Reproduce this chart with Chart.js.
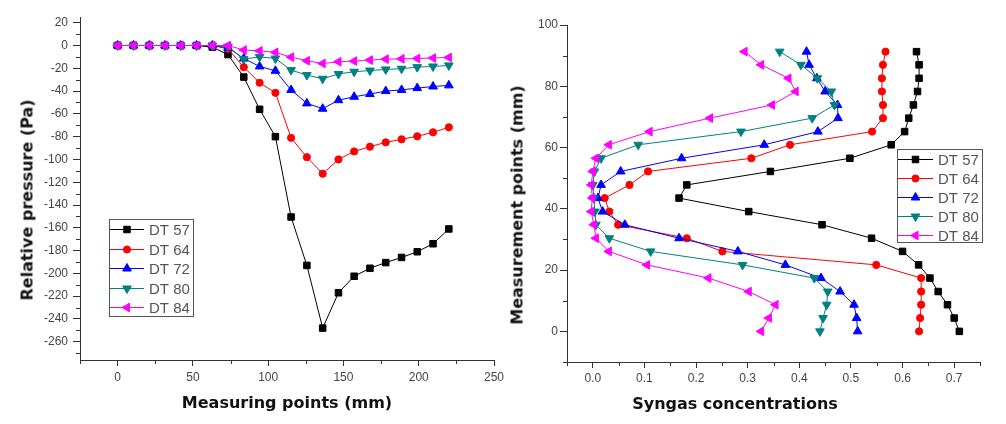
<!DOCTYPE html>
<html>
<head>
<meta charset="utf-8">
<script src="https://cdn.jsdelivr.net/npm/chart.js@4/dist/chart.umd.min.js"></script>
<style>
  html, body { margin: 0; padding: 0; background: #fff; }
  #wrap { position: relative; width: 1006px; height: 424px; overflow: hidden; }
  canvas { position: absolute; top: 0; }
  #pressureChart { left: 0; }
  #syngasChart { left: 490px; }
  .ttl { position: absolute; font: bold 16px "DejaVu Sans", sans-serif; color: #111;
         white-space: nowrap; transform: translate(-50%, -50%); }
  .vert { transform: translate(-50%, -50%) rotate(-90deg); }
</style>
</head>
<body>
<div id="wrap">
  <canvas id="pressureChart" width="510" height="424"></canvas>
  <canvas id="syngasChart" width="516" height="424"></canvas>
  <div class="ttl vert" style="left:27px;top:200px;">Relative pressure (Pa)</div>
  <div class="ttl" style="left:287px;top:402px;">Measuring points (mm)</div>
  <div class="ttl vert" style="left:517px;top:205px;">Measurement points (mm)</div>
  <div class="ttl" style="left:735px;top:403px;">Syngas concentrations</div>
</div>
<script>
// series names
const seriesNames = ['DT 57', 'DT 64', 'DT 72', 'DT 80', 'DT 84'];

// left panel: measuring points (mm) and relative pressure (Pa)
const measuringPoints = [0, 10.5, 21, 31.4, 41.9, 52.4, 62.9, 73.3, 83.8, 94.3, 104.8,
  115.2, 125.7, 136.2, 146.7, 157.1, 167.6, 178.1, 188.6, 199, 209.5, 220];
const pressureDT57 = [0, 0, 0, 0, 0, 0, -1.5, -8, -27.7, -56, -80, -150.5, -193, -248,
  -217, -202.5, -195.5, -190.5, -186, -181, -174, -161];
const pressureDT64 = [0, 0, 0, 0, 0, 0, 0, -3, -19, -32.7, -41.5, -81, -98, -112.5,
  -100, -93, -88.8, -85, -82.3, -79.7, -76.2, -71.8];
const pressureDT72 = [0, 0, 0, 0, 0, 0, 0, -2, -11.4, -18.4, -22.2, -39, -50.8, -55.5,
  -48, -45, -42.6, -40, -39, -37.4, -36, -35];
const pressureDT80 = [0, 0, 0, 0, 0, 0, 0, -1, -12, -10, -11.4, -21.6, -26, -29.2,
  -25, -23, -22, -21, -20.4, -19, -18.4, -17.5];
const pressureDT84 = [0, 0, 0, 0, 0, 0, 0, 0, -4, -4.7, -6, -10.2, -13.4, -15.8,
  -14.3, -13.7, -12.8, -12, -11.7, -11.4, -11, -10.5];

// right panel: measurement points (mm) and syngas concentrations
const heightPoints = [0, 4.35, 8.7, 13, 17.4, 21.7, 26.1, 30.4, 34.8, 39.1, 43.5,
  47.8, 52.2, 56.5, 60.9, 65.2, 69.6, 73.9, 78.3, 82.6, 87, 91.3];
const syngasDT57 = [0.71, 0.70, 0.687, 0.669, 0.653, 0.631, 0.600, 0.540, 0.444, 0.302, 0.167,
  0.182, 0.344, 0.498, 0.578, 0.604, 0.612, 0.621, 0.629, 0.632, 0.632, 0.627];
const syngasDT64 = [0.632, 0.634, 0.636, 0.636, 0.636, 0.549, 0.251, 0.182, 0.049, 0.032, 0.023,
  0.071, 0.107, 0.307, 0.382, 0.541, 0.562, 0.562, 0.560, 0.560, 0.562, 0.567];
const syngasDT72 = [0.513, 0.511, 0.506, 0.479, 0.442, 0.373, 0.281, 0.167, 0.062, 0.019, 0.010,
  0.016, 0.054, 0.172, 0.332, 0.436, 0.475, 0.474, 0.450, 0.434, 0.419, 0.414];
const syngasDT80 = [0.440, 0.446, 0.453, 0.455, 0.429, 0.290, 0.112, 0.032, 0.006, 0.004, 0.002,
  0.0, 0.003, 0.016, 0.088, 0.287, 0.425, 0.468, 0.462, 0.435, 0.403, 0.362];
const syngasDT84 = [0.326, 0.341, 0.354, 0.302, 0.224, 0.105, 0.031, 0.006, 0.002, -0.003, -0.001,
  -0.003, 0.0, 0.006, 0.031, 0.110, 0.227, 0.347, 0.393, 0.379, 0.326, 0.294];

const seriesColors = ['#000000', '#ff0000', '#0000ff', '#008080', '#ff00ff'];
const seriesMarkers = [
  { style: 'rect', rot: 0, r: 4.6 },
  { style: 'circle', rot: 0, r: 3.6 },
  { style: 'triangle', rot: 0, r: 5 },
  { style: 'triangle', rot: 180, r: 5 },
  { style: 'triangle', rot: -90, r: 5 }
];

const AXIS_COLOR = '#333';
const TICK_FONT = { family: '"Liberation Sans", Arial, sans-serif', size: 12 };

function makeDatasets(values, pairUp) {
  return values.map((vals, i) => ({
    label: seriesNames[i],
    data: vals.map((v, j) => pairUp(v, j)),
    borderColor: seriesColors[i],
    backgroundColor: seriesColors[i],
    borderWidth: 1,
    pointStyle: seriesMarkers[i].style,
    pointRotation: seriesMarkers[i].rot,
    pointRadius: seriesMarkers[i].r,
    pointBorderWidth: 1,
    showLine: true,
    tension: 0,
    clip: false,
    order: 4 - i
  }));
}

/* short minor tick marks (labels left empty) */
const minorTicks = {
  id: 'minorTicks',
  afterDraw(chart) {
    const ctx = chart.ctx;
    ctx.save();
    ctx.strokeStyle = AXIS_COLOR;
    ctx.lineWidth = 1;
    Object.values(chart.scales).forEach(scale => {
      scale.ticks.forEach((tick, i) => {
        if (tick.label !== '') return;
        const p = Math.round(scale.getPixelForTick(i)) + 0.5;
        ctx.beginPath();
        if (scale.isHorizontal()) {
          ctx.moveTo(p, scale.top);
          ctx.lineTo(p, scale.top + 4);
        } else {
          ctx.moveTo(scale.right, p);
          ctx.lineTo(scale.right - 4, p);
        }
        ctx.stroke();
      });
    });
    ctx.restore();
  }
};

/* Origin style legend box: line + marker + name */
const boxLegend = {
  id: 'boxLegend',
  afterDraw(chart, args, opts) {
    const ctx = chart.ctx;
    ctx.save();
    ctx.strokeStyle = '#555';
    ctx.lineWidth = 1;
    ctx.strokeRect(opts.x + 0.5, opts.y + 0.5, opts.w, opts.h);
    chart.data.datasets.forEach((ds, i) => {
      const cy = Math.round(opts.y + opts.first + i * opts.gap) + 0.5;
      ctx.strokeStyle = ds.borderColor;
      ctx.fillStyle = ds.backgroundColor;
      ctx.beginPath();
      ctx.moveTo(opts.x + 1, cy);
      ctx.lineTo(opts.x + 1 + opts.lineLen, cy);
      ctx.stroke();
      Chart.helpers.drawPoint(ctx, {
        pointStyle: ds.pointStyle, rotation: ds.pointRotation,
        radius: ds.pointRadius, borderWidth: 1
      }, opts.x + 1 + opts.lineLen / 2, cy);
      ctx.fillStyle = '#555';
      ctx.font = '15px "Liberation Sans", Arial, sans-serif';
      ctx.textBaseline = 'middle';
      ctx.fillText(ds.label, opts.x + opts.textX, cy + 1);
    });
    ctx.restore();
  }
};

function axis(min, max, step, isMajor, fmt, tickPad, size, horizontal) {
  return {
    type: 'linear',
    min: min,
    max: max,
    ticks: {
      stepSize: step,
      includeBounds: false,
      autoSkip: false,
      maxRotation: 0,
      padding: tickPad,
      color: '#444',
      font: TICK_FONT,
      callback: v => isMajor(v) ? fmt(v) : ''
    },
    grid: {
      drawOnChartArea: false,
      drawTicks: true,
      tickLength: horizontal ? 6 : 7,
      color: c => (c.tick && c.tick.label === '') ? 'rgba(0,0,0,0)' : AXIS_COLOR
    },
    border: { display: true, color: AXIS_COLOR, width: 1 },
    afterFit: s => { if (horizontal) s.height = size; else s.width = size; }
  };
}

const near = (v, m) => Math.abs(v / m - Math.round(v / m)) < 1e-6;

function initPressureChart() {
  const ctx = document.getElementById('pressureChart').getContext('2d');
  new Chart(ctx, {
    type: 'line',
    data: {
      datasets: makeDatasets(
        [pressureDT57, pressureDT64, pressureDT72, pressureDT80, pressureDT84],
        (v, j) => ({ x: measuringPoints[j], y: v }))
    },
    options: {
      responsive: false,
      animation: false,
      devicePixelRatio: 1,
      layout: { padding: { left: 20, right: 16, top: 17, bottom: 24 } },
      scales: {
        x: axis(-25, 250, 25, v => v >= 0 && near(v, 50), v => String(v), 4, 40, true),
        y: axis(-276, 25, 10, v => near(v, 20), v => String(v), 5, 60, false)
      },
      plugins: {
        legend: { display: false },
        tooltip: { enabled: false },
        boxLegend: { x: 109, y: 219, w: 84, h: 97, first: 10, gap: 19.6, lineLen: 34, textX: 40 }
      }
    },
    plugins: [minorTicks, boxLegend]
  });
}

function initSyngasChart() {
  const ctx = document.getElementById('syngasChart').getContext('2d');
  new Chart(ctx, {
    type: 'scatter',
    data: {
      datasets: makeDatasets(
        [syngasDT57, syngasDT64, syngasDT72, syngasDT80, syngasDT84],
        (v, j) => ({ x: v, y: heightPoints[j] }))
    },
    options: {
      responsive: false,
      animation: false,
      devicePixelRatio: 1,
      layout: { padding: { left: 27, right: 26, top: 25, bottom: 22 } },
      scales: {
        x: axis(-0.05, 0.75, 0.05, v => v > -1e-9 && near(v, 0.1),
          v => Math.abs(v) < 1e-9 ? '0.0' : v.toFixed(1), 3, 40, true),
        y: axis(-10, 100, 10, v => v >= 0 && near(v, 20), v => String(v), 2, 50, false)
      },
      plugins: {
        legend: { display: false },
        tooltip: { enabled: false },
        boxLegend: { x: 407, y: 149, w: 85, h: 93, first: 10, gap: 19, lineLen: 35, textX: 41 }
      }
    },
    plugins: [minorTicks, boxLegend]
  });
}

initPressureChart();
initSyngasChart();
</script>
</body>
</html>
